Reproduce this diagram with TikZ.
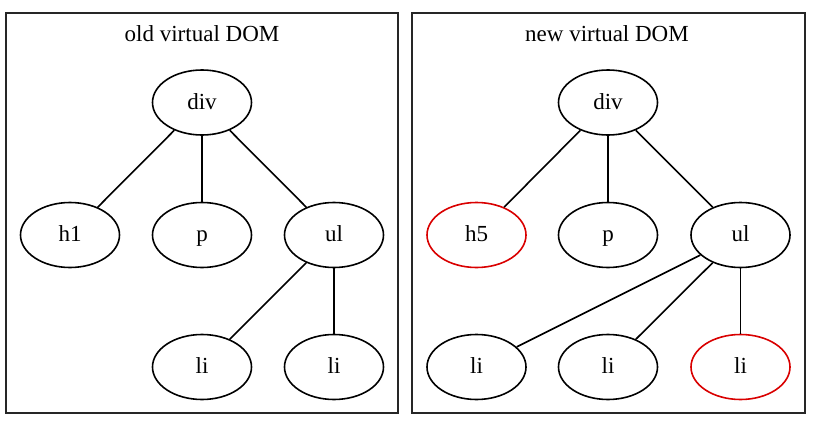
\documentclass[tikz,border=0pt]{standalone}
\usepackage{fontspec}
\setmainfont{Liberation Serif}
\usetikzlibrary{shapes.geometric}
\begin{document}
\begin{tikzpicture}[x=1pt,y=-1pt,
  every node/.style={font=\fontsize{23}{27}\selectfont},
  nd/.style={ellipse,draw=black,line width=1.6pt,minimum width=99pt,minimum height=65pt,inner sep=0pt,text height=13pt,text depth=0pt},
  chg/.style={nd,draw=red!85!black},
  edge/.style={line width=1.6pt},
  panel/.style={draw=black!85,line width=2pt},
  ttl/.style={anchor=base}]
\useasboundingbox (0,0) rectangle (833,423);
% panels
\node[panel,minimum width=392pt,minimum height=400pt,inner sep=0pt] (boxL) at (202,213) {};
\node[panel,minimum width=393pt,minimum height=400pt,inner sep=0pt] (boxR) at (608.5,213) {};
\node[ttl] (tL) at (202,41) {old virtual DOM};
\node[ttl] (tR) at (607,41) {new virtual DOM};
% old tree
\node[nd] (divL) at (202,102.5) {div};
\node[nd] (h1) at (70,235) {h1};
\node[nd] (pL) at (202,235) {p};
\node[nd] (ulL) at (334,235) {ul};
\node[nd] (liL1) at (202,367) {li};
\node[nd] (liL2) at (334,367) {li};
\draw[edge] (divL) -- (h1);
\draw[edge] (divL) -- (pL);
\draw[edge] (divL) -- (ulL);
\draw[edge] (ulL) -- (liL1);
\draw[edge] (ulL) -- (liL2);
% new tree
\node[nd] (divR) at (608,102.5) {div};
\node[chg] (h5) at (476.5,235) {h5};
\node[nd] (pR) at (608,235) {p};
\node[nd] (ulR) at (740.5,235) {ul};
\node[nd] (liR1) at (476.5,367) {li};
\node[nd] (liR2) at (608,367) {li};
\node[chg] (liR3) at (740.5,367) {li};
\draw[edge] (divR) -- (h5);
\draw[edge] (divR) -- (pR);
\draw[edge] (divR) -- (ulR);
\draw[edge] (ulR) -- (liR1);
\draw[edge] (ulR) -- (liR2);
\draw[edge] (ulR) -- (liR3);
\end{tikzpicture}
\end{document}
